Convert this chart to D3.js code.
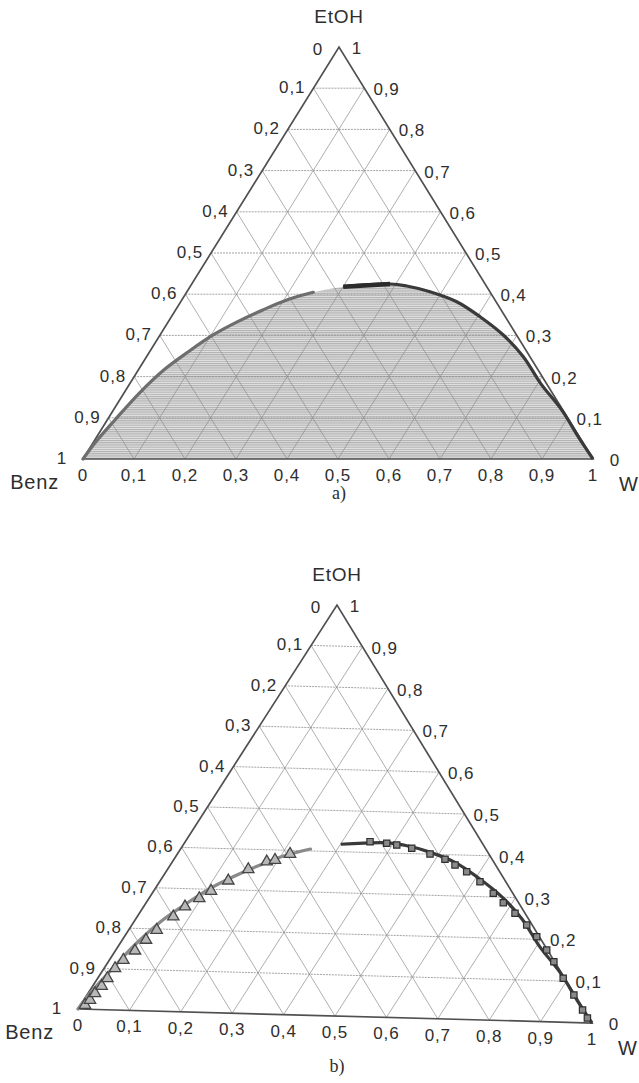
<!DOCTYPE html>
<html>
<head>
<meta charset="utf-8">
<script src="https://cdn.jsdelivr.net/npm/d3@7"></script>
<style>
  body { margin: 0; background: #fff; }
  svg { display: block; }
  text { font-family: "Liberation Sans", Arial, Helvetica, sans-serif; fill: #2e2e2e; }
  .caption { font-family: "Liberation Serif", "Times New Roman", serif; }
</style>
</head>
<body>
<svg id="chart" width="639" height="1083"></svg>
<script>
// Composition grid (mole fractions), labelled with a decimal comma
const gridTicks = [0.1, 0.2, 0.3, 0.4, 0.5, 0.6, 0.7, 0.8, 0.9];
const baseTicks = [0, 0.1, 0.2, 0.3, 0.4, 0.5, 0.6, 0.7, 0.8, 0.9, 1];

// Calculated binodal, benzene-rich branch: water and ethanol fractions
const calcLeftW = [0, 0.0040, 0.0150, 0.0300, 0.0500, 0.0760, 0.1040, 0.1360, 0.1710, 0.2090, 0.2485];
const calcLeftE = [0, 0.0400, 0.0947, 0.1595, 0.2160, 0.2604, 0.3010, 0.3333, 0.3617, 0.3876, 0.4046];

// Calculated binodal, water-rich branch
const calcRightW = [0.3004, 0.3888, 0.4239, 0.4765, 0.5411, 0.6051, 0.6730, 0.7387, 0.8050, 0.8800, 0.9450, 1];
const calcRightE = [0.4182, 0.4248, 0.4199, 0.4061, 0.3818, 0.3454, 0.3010, 0.2483, 0.1837, 0.1180, 0.0530, 0];

// Measured equilibrium compositions, benzene-rich phase (triangles)
const expBenzW = [0.0085, 0.0119, 0.0133, 0.0171, 0.0185, 0.0209, 0.0266, 0.0375, 0.0454, 0.0536, 0.0691, 0.0792, 0.0962, 0.1097, 0.1301, 0.1544, 0.1803, 0.1940, 0.2154];
const expBenzE = [0.0102, 0.0227, 0.0393, 0.0575, 0.0767, 0.1015, 0.1222, 0.1456, 0.1724, 0.1974, 0.2309, 0.2560, 0.2773, 0.2959, 0.3221, 0.3511, 0.3709, 0.3755, 0.3911];

// Measured equilibrium compositions, water-rich phase (squares)
const expWaterW = [0.3533, 0.3872, 0.4084, 0.4411, 0.4831, 0.5182, 0.5444, 0.5749, 0.6126, 0.6523, 0.6829, 0.7183, 0.7550, 0.7885, 0.8239, 0.8520, 0.8900, 0.9310, 0.9660, 0.9850];
const expWaterE = [0.4264, 0.4236, 0.4201, 0.4131, 0.4004, 0.3885, 0.3753, 0.3598, 0.3363, 0.3090, 0.2868, 0.2618, 0.2341, 0.2063, 0.1746, 0.1465, 0.1070, 0.0670, 0.0310, 0.0120];

const comma = d3.formatLocale({ decimal: ",", thousands: " ", grouping: [3], currency: ["", ""] });
const fmt = v => (v === 0 || v === 1) ? String(v) : comma.format(".1f")(v);

const zip = (ws, es) => ws.map((w, i) => [w, es[i]]);
const calcLeft = zip(calcLeftW, calcLeftE);
const calcRight = zip(calcRightW, calcRightE);
const expBenz = zip(expBenzW, expBenzE);
const expWater = zip(expWaterW, expWaterE);

const svg = d3.select("#chart");

// Fine hatching used for the two-phase region
const defs = svg.append("defs");
const pat = defs.append("pattern")
  .attr("id", "tieLines").attr("patternUnits", "userSpaceOnUse")
  .attr("width", 6).attr("height", 2.2);
pat.append("rect").attr("width", 6).attr("height", 2.2).attr("fill", "#e4e4e4");
pat.append("line").attr("x1", 0).attr("x2", 6).attr("y1", 0.6).attr("y2", 0.6)
  .attr("stroke", "#a2a2a2").attr("stroke-width", 0.9);

// Ternary projection: (water, ethanol) -> screen, benzene = 1 - w - e
function ternary(B, W, A) {
  const wx = d3.scaleLinear().domain([0, 1]).range([0, W[0] - B[0]]);
  const wy = d3.scaleLinear().domain([0, 1]).range([0, W[1] - B[1]]);
  const ex = d3.scaleLinear().domain([0, 1]).range([0, A[0] - B[0]]);
  const ey = d3.scaleLinear().domain([0, 1]).range([0, A[1] - B[1]]);
  return (w, e) => [B[0] + wx(w) + ex(e), B[1] + wy(w) + ey(e)];
}

const panels = [
  { B: [83, 459], W: [593, 459], A: [339, 47], caption: "a)", capY: 499, hatched: true },
  { B: [78, 1009], W: [592, 1023], A: [337, 605], caption: "b)", capY: 1072, hatched: false }
];

panels.forEach(p => {
  const proj = ternary(p.B, p.W, p.A);
  const g = svg.append("g");
  const line = d3.line().x(d => proj(d[0], d[1])[0]).y(d => proj(d[0], d[1])[1]);
  const smooth = d3.line().curve(d3.curveCatmullRom.alpha(0.5))
    .x(d => proj(d[0], d[1])[0]).y(d => proj(d[0], d[1])[1]);

  // two-phase region
  if (p.hatched) {
    g.append("path")
      .attr("d", smooth(calcLeft.concat(calcRight)) + "Z")
      .attr("fill", "url(#tieLines)").attr("stroke", "none");
  }

  // grid
  const grid = g.append("g").attr("fill", "none").attr("stroke", "#8c8c8c");
  gridTicks.forEach(k => {
    grid.append("path").attr("d", line([[0, k], [1 - k, k]]))
      .attr("stroke-width", 0.8).attr("stroke-dasharray", "2,1");
    grid.append("path").attr("d", line([[k, 0], [k, 1 - k]])).attr("stroke-width", 0.7);
    grid.append("path").attr("d", line([[1 - k, 0], [0, 1 - k]])).attr("stroke-width", 0.7);
  });

  // triangle frame
  g.append("path").attr("d", line([[0, 0], [1, 0], [0, 1]]) + "Z")
    .attr("fill", "none").attr("stroke", "#505050").attr("stroke-width", 1.7)
    .attr("stroke-linejoin", "miter");

  // binodal branches
  g.append("path").attr("d", smooth(calcLeft)).attr("fill", "none")
    .attr("stroke", p.hatched ? "#6e6e6e" : "#8a8a8a").attr("stroke-width", 3.2)
    .attr("stroke-linecap", "round");
  g.append("path").attr("d", smooth(calcRight)).attr("fill", "none")
    .attr("stroke", "#3a3a3a").attr("stroke-width", 3.2).attr("stroke-linecap", "butt");
  if (p.hatched) {
    g.append("path").attr("d", smooth(calcRight.slice(0, 2))).attr("fill", "none")
      .attr("stroke", "#2c2c2c").attr("stroke-width", 4.5);
  } else {
    const tri = d3.symbol().type(d3.symbolTriangle).size(56);
    g.selectAll("path.tri").data(expBenz).join("path").attr("class", "tri")
      .attr("d", tri)
      .attr("transform", d => { const q = proj(d[0], d[1]); return `translate(${q[0]},${q[1]})`; })
      .attr("fill", "#b8b8b8").attr("stroke", "#444").attr("stroke-width", 1.3);
    const sq = d3.symbol().type(d3.symbolSquare).size(40);
    g.selectAll("path.sq").data(expWater).join("path").attr("class", "sq")
      .attr("d", sq)
      .attr("transform", d => { const q = proj(d[0], d[1]); return `translate(${q[0]},${q[1]})`; })
      .attr("fill", "#8a8a8a").attr("stroke", "#2e2e2e").attr("stroke-width", 1.2);
  }

  // tick labels
  const labels = g.append("g").attr("font-size", 17).attr("letter-spacing", 0.9);
  gridTicks.forEach(k => {
    const L = proj(0, 1 - k);
    labels.append("text").attr("x", L[0] - 8).attr("y", L[1] + 5)
      .attr("text-anchor", "end").text(fmt(k));
    const R = proj(1 - k, k);
    labels.append("text").attr("x", R[0] + 9).attr("y", R[1] + 7)
      .attr("text-anchor", "start").text(fmt(k));
  });
  baseTicks.forEach(k => {
    const P = proj(k, 0);
    labels.append("text").attr("x", P[0]).attr("y", P[1] + 22)
      .attr("text-anchor", "middle").text(fmt(k));
  });
  const apex = proj(0, 1), benz = proj(0, 0), water = proj(1, 0);
  labels.append("text").attr("x", apex[0] - 21).attr("y", apex[1] + 8).attr("text-anchor", "middle").text(fmt(0));
  labels.append("text").attr("x", apex[0] + 18).attr("y", apex[1] + 7).attr("text-anchor", "middle").text(fmt(1));
  labels.append("text").attr("x", benz[0] - 21).attr("y", benz[1] + 5).attr("text-anchor", "middle").text(fmt(1));
  labels.append("text").attr("x", water[0] + 22).attr("y", water[1] + 7).attr("text-anchor", "middle").text(fmt(0));

  // component names
  g.append("text").attr("x", apex[0]).attr("y", apex[1] - 24).attr("text-anchor", "middle")
    .attr("font-size", 19).attr("letter-spacing", 0.8).text("EtOH");
  g.append("text").attr("x", benz[0] - 24).attr("y", benz[1] + 30).attr("text-anchor", "end")
    .attr("font-size", 20).attr("letter-spacing", 0.8).text("Benz");
  g.append("text").attr("x", water[0] + 26).attr("y", water[1] + 32).attr("text-anchor", "start")
    .attr("font-size", 20).text("W");

  g.append("text").attr("class", "caption").attr("x", apex[0]).attr("y", p.capY)
    .attr("text-anchor", "middle").attr("font-size", 18).text(p.caption);
});
</script>
</body>
</html>
